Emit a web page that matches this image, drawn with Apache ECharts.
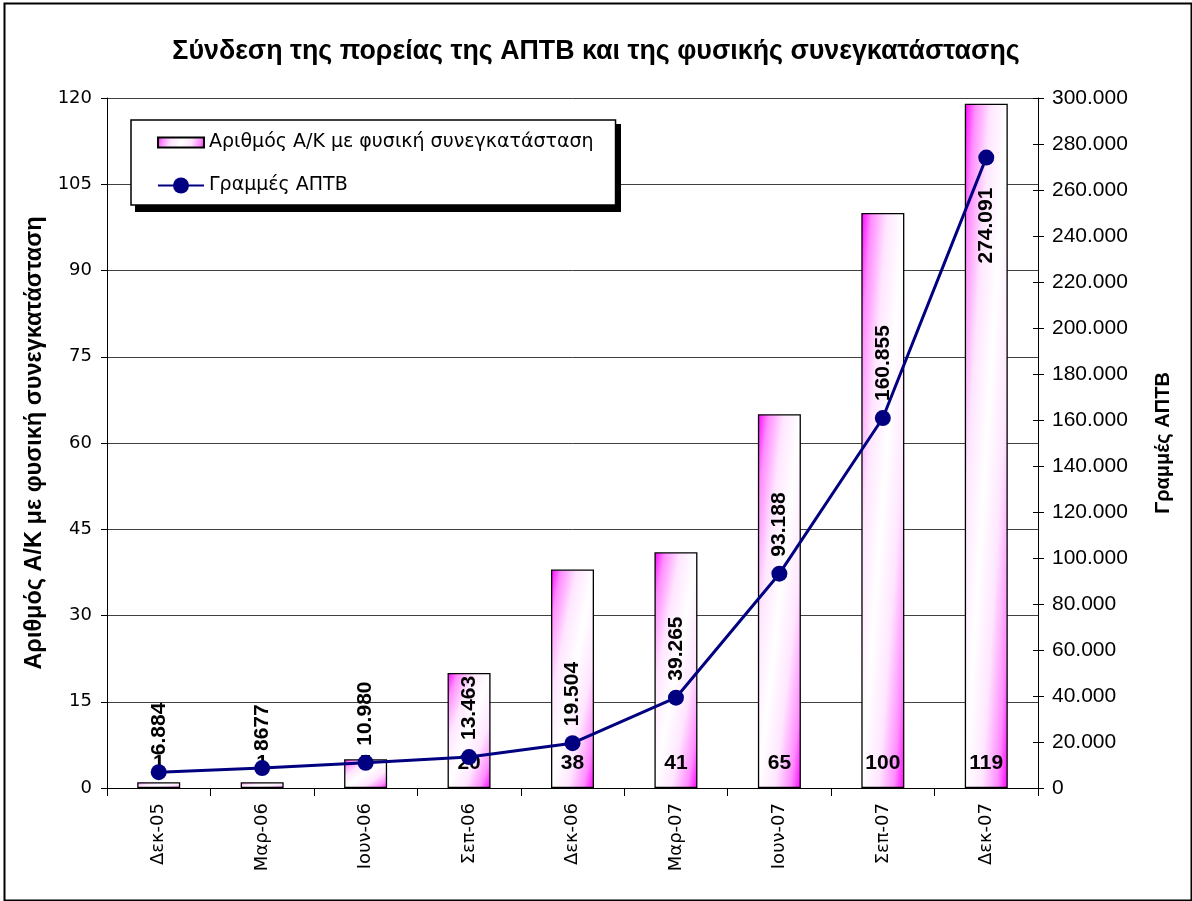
<!DOCTYPE html>
<html><head><meta charset="utf-8">
<script src="https://cdn.jsdelivr.net/npm/echarts@6/dist/echarts.min.js"></script>
<style>html,body{margin:0;padding:0;background:#fff}#c{width:1192px;height:901px}</style>
</head><body><div id="c"></div>
<script>
const categories = ['Δεκ-05','Μαρ-06','Ιουν-06','Σεπ-06','Δεκ-06','Μαρ-07','Ιουν-07','Σεπ-07','Δεκ-07'];
const barValues = [1, 1, 5, 20, 38, 41, 65, 100, 119];
const lineValues = [6884, 8677, 10980, 13463, 19504, 39265, 93188, 160855, 274091];
const lineLabels = ['6.884', '8677', '10.980', '13.463', '19.504', '39.265', '93.188', '160.855', '274.091'];
const barName = 'Αριθμός Α/Κ με φυσική συνεγκατάσταση';
const lineName = 'Γραμμές ΑΠΤΒ';
const titleText = 'Σύνδεση της πορείας της ΑΠΤΒ και της φυσικής συνεγκατάστασης';

const BAR_W = 43;
const SANS = "'DejaVu Sans', Verdana, sans-serif";
const ARIAL = "'Liberation Sans', Arial, sans-serif";
const stops = [
  {offset: 0, color: '#ff00ff'},
  {offset: 0.12, color: '#ff8cff'},
  {offset: 0.3, color: '#ffe6ff'},
  {offset: 0.5, color: '#ffffff'},
  {offset: 0.7, color: '#ffe6ff'},
  {offset: 0.88, color: '#ff8cff'},
  {offset: 1, color: '#ff00ff'}
];
function grad(w, h) {
  const d = h * h + w * w;
  return {type: 'linear', x: 0, y: 0, x2: 2 * h * h / d, y2: 2 * w * w / d, colorStops: stops, global: false};
}
function fmt(v) { return v === 0 ? '0' : String(v).replace(/\B(?=(\d{3})+(?!\d))/g, '.'); }

const chart = echarts.init(document.getElementById('c'), null, {renderer: 'canvas'});
const option = {
  animation: false,
  backgroundColor: '#fff',
  title: {
    text: titleText, left: 'center', top: 33,
    textStyle: {fontFamily: ARIAL, fontWeight: 'bold', fontSize: 26.8, color: '#000'}
  },
  graphic: [{
    type: 'rect', left: 2, top: 1, z: -1,
    shape: {width: 1187, height: 897},
    style: {fill: 'none', stroke: '#000', lineWidth: 2}
  }, {
    type: 'rect', left: 135, top: 124, z: 1,
    shape: {width: 486, height: 88},
    style: {fill: '#000'}
  }],
  legend: {
    orient: 'vertical', left: 131, top: 120, z: 10,
    padding: [13, 22, 10, 26],
    itemWidth: 46, itemHeight: 20, itemGap: 24,
    backgroundColor: '#fff', borderColor: '#000', borderWidth: 1.5,
    selectedMode: false,
    textStyle: {fontFamily: SANS, fontSize: 19, color: '#000'},
    data: [{name: barName, icon: 'path://M0,0L46,0L46,10L0,10Z'}, {name: lineName}]
  },
  grid: {left: 107, right: 154, top: 98, bottom: 113},
  xAxis: {
    type: 'category', data: categories, boundaryGap: true,
    axisLine: {show: true, lineStyle: {color: '#000', width: 1}},
    axisTick: {show: true, length: 8, lineStyle: {color: '#000'}},
    axisLabel: {rotate: 90, margin: 15, fontFamily: SANS, fontSize: 18, color: '#000'}
  },
  yAxis: [{
    type: 'value', min: 0, max: 120, interval: 15,
    name: barName, nameLocation: 'middle', nameGap: 55, nameRotate: 90,
    nameTextStyle: {fontFamily: ARIAL, fontWeight: 'bold', fontSize: 23.5, color: '#000'},
    axisLine: {show: true, lineStyle: {color: '#000', width: 1}},
    axisTick: {show: true, length: 6, lineStyle: {color: '#000'}},
    axisLabel: {margin: 15, fontFamily: SANS, fontSize: 18, color: '#000'},
    splitLine: {show: true, lineStyle: {color: '#404040', width: 1}}
  }, {
    type: 'value', position: 'right', min: 0, max: 300000, interval: 20000,
    name: lineName, nameLocation: 'middle', nameGap: 115, nameRotate: 90,
    nameTextStyle: {fontFamily: ARIAL, fontWeight: 'bold', fontSize: 20, color: '#000'},
    axisLine: {show: true, lineStyle: {color: '#000', width: 1}},
    axisTick: {show: true, length: 6, lineStyle: {color: '#000'}},
    axisLabel: {margin: 14, fontFamily: ARIAL, fontSize: 21, color: '#000', formatter: fmt},
    splitLine: {show: false}
  }, {
    type: 'value', position: 'right', min: 0, max: 300000, interval: 20000,
    axisLine: {show: false},
    axisTick: {show: true, inside: true, length: 5, lineStyle: {color: '#000'}},
    axisLabel: {show: false},
    splitLine: {show: false}
  }],
  series: [{
    id: 'bars', name: barName, type: 'bar', yAxisIndex: 0, barWidth: BAR_W,
    data: barValues,
    itemStyle: {
      color: {type: 'linear', x: 0, y: 0, x2: 1, y2: 1, colorStops: stops},
      borderColor: '#000', borderWidth: 1.3
    },
    label: {
      show: true, position: 'insideBottom', distance: 14,
      fontFamily: ARIAL, fontWeight: 'bold', fontSize: 21, color: '#000'
    },
    z: 2
  }, {
    id: 'line', name: lineName, type: 'line', yAxisIndex: 1,
    data: lineValues.map((v, i) => i === lineValues.length - 1
      ? {value: v, label: {position: 'bottom', align: 'right', distance: 22}}
      : v),
    symbol: 'circle', symbolSize: 16,
    lineStyle: {color: '#000080', width: 3},
    itemStyle: {color: '#000080'},
    label: {
      show: true, position: 'top', distance: 9, rotate: 90,
      align: 'left', verticalAlign: 'middle',
      formatter: p => lineLabels[p.dataIndex],
      fontFamily: ARIAL, fontWeight: 'bold', fontSize: 21, color: '#000'
    },
    z: 3
  }]
};
chart.setOption(option);
const y0 = chart.convertToPixel({yAxisIndex: 0}, 0);
const barData = barValues.map(v => {
  const h = Math.abs(y0 - chart.convertToPixel({yAxisIndex: 0}, v));
  return {value: v, itemStyle: {color: grad(BAR_W, h)}};
});
chart.setOption({series: [{id: 'bars', data: barData}]});
</script></body></html>
